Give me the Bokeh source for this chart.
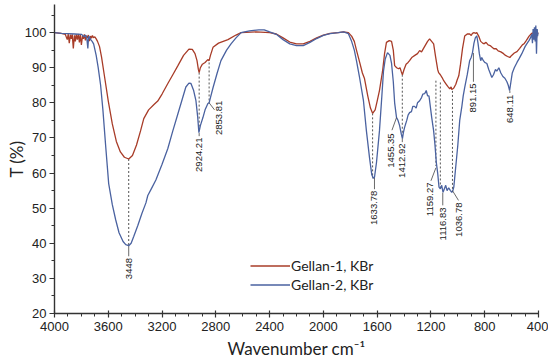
import math
from bokeh.plotting import figure
from bokeh.models import Range1d, FixedTicker, Legend, LegendItem, ColumnDataSource
from bokeh.core.properties import value
from bokeh.embed import file_html
from bokeh.resources import INLINE

# ---------------- data ----------------
wn_g1 = [4000, 3950, 3920, 3905, 3898, 3890, 3882, 3875, 3868, 3860, 3852, 3845, 3838, 3830, 3822,
         3815, 3808, 3800, 3792, 3785, 3778, 3770, 3762, 3755, 3748, 3740, 3732, 3725, 3718, 3710,
         3700, 3690, 3680, 3665, 3650, 3630, 3600, 3570, 3540, 3510, 3480, 3448, 3420, 3390, 3360,
         3336, 3300, 3260, 3232, 3200, 3157, 3120, 3082, 3040, 3000, 2975, 2955, 2940, 2930, 2924,
         2915, 2900, 2880, 2860, 2850, 2840, 2821, 2780, 2710, 2650, 2612, 2500, 2400, 2350, 2300,
         2250, 2200, 2150, 2100, 2050, 2000, 1950, 1889, 1850, 1814, 1790, 1770, 1754, 1730, 1710,
         1695, 1670, 1650, 1634, 1615, 1600, 1583, 1560, 1545, 1531, 1510, 1493, 1480, 1470, 1455,
         1441, 1430, 1420, 1412, 1400, 1385, 1370, 1359, 1340, 1320, 1300, 1284, 1270, 1255, 1240,
         1225, 1210, 1195, 1180, 1165, 1150, 1143, 1130, 1117, 1105, 1090, 1075, 1060, 1050, 1045,
         1037, 1030, 1015, 1005, 993, 980, 965, 949, 930, 912, 900, 891, 880, 870, 859, 845, 830,
         815, 807, 790, 775, 760, 745, 732, 715, 700, 680, 660, 645, 630, 613, 600, 580, 560, 540,
         520, 508, 490, 470, 450, 434, 425, 420, 415, 410, 405, 400]
t_g1 = [100, 99.8, 99.5, 98.0, 99.6, 97.0, 99.4, 98.2, 99.5, 95.5, 99.2, 97.5, 99.5, 98.0, 99.6,
        97.2, 99.3, 96.5, 99.0, 98.2, 99.5, 97.8, 99.1, 98.5, 99.3, 97.6, 99.0, 98.4, 99.2, 98.5,
        98.8, 98.2, 97.5, 96.0, 93.0, 88.0, 80.5, 74.0, 69.0, 66.0, 64.5, 64.0, 65.0, 68.0, 72.0,
        75.5, 78.0, 79.5, 80.5, 82.5, 85.5, 88.0, 90.6, 93.5, 95.3, 95.2, 94.0, 92.0, 89.5, 88.6,
        90.0, 91.0, 91.5, 92.3, 92.0, 93.5, 95.8, 97.0, 98.0, 99.3, 100.0, 100.2, 100.0, 99.6, 98.5,
        97.3, 96.8, 96.8, 97.5, 98.5, 99.3, 99.8, 100.0, 100.2, 100.0, 99.0, 97.5, 95.0, 91.5, 88.5,
        87.0, 82.0, 78.5, 77.0, 78.0, 80.5, 83.5, 89.0, 94.0, 97.2, 97.7, 97.5, 95.0, 90.6, 90.0,
        89.7, 90.0, 88.8, 88.0, 89.5, 91.0, 91.5, 92.0, 93.0, 93.5, 94.0, 94.9, 94.5, 95.5, 96.5,
        97.5, 98.2, 97.5, 96.8, 93.0, 89.5, 88.6, 88.0, 87.2, 86.3, 85.5, 84.7, 84.0, 84.5, 83.8,
        84.0, 84.2, 85.3, 86.5, 87.7, 91.0, 95.5, 99.0, 99.6, 99.6, 99.2, 99.8, 100.0, 99.8, 100.0,
        99.0, 97.5, 97.0, 96.8, 97.2, 96.5, 96.3, 95.8, 95.4, 95.4, 94.8, 94.5, 94.0, 93.5, 93.2,
        92.9, 93.5, 94.2, 94.6, 95.5, 96.5, 96.8, 97.8, 99.0, 99.8, 100.0, 99.0, 101.0, 98.5, 100.5,
        99.5, 100.0]

wn_g2 = [4000, 3950, 3900, 3850, 3800, 3780, 3770, 3760, 3752, 3746, 3730, 3720, 3709, 3690, 3675,
         3657, 3640, 3620, 3597, 3570, 3545, 3520, 3490, 3470, 3448, 3430, 3410, 3381, 3350, 3320,
         3306, 3280, 3246, 3200, 3157, 3120, 3082, 3050, 3023, 3000, 2985, 2965, 2948, 2935, 2926,
         2915, 2896, 2880, 2859, 2850, 2840, 2821, 2790, 2762, 2720, 2687, 2650, 2612, 2550, 2480,
         2440, 2400, 2350, 2300, 2250, 2200, 2150, 2100, 2050, 2000, 1950, 1889, 1850, 1814, 1790,
         1770, 1754, 1730, 1702, 1680, 1657, 1640, 1628, 1620, 1605, 1583, 1565, 1553, 1540, 1523,
         1505, 1493, 1480, 1470, 1456, 1445, 1433, 1420, 1412, 1405, 1396, 1380, 1370, 1359, 1345,
         1335, 1322, 1310, 1300, 1284, 1270, 1260, 1247, 1235, 1225, 1215, 1210, 1195, 1180, 1170,
         1160, 1150, 1140, 1130, 1120, 1110, 1100, 1090, 1080, 1068, 1055, 1045, 1037, 1030, 1015,
         1000, 986, 970, 960, 949, 930, 912, 900, 891, 880, 870, 859, 850, 840, 830, 822, 810, 800,
         784, 770, 760, 747, 735, 720, 710, 695, 680, 665, 650, 635, 625, 615, 605, 595, 580, 560,
         545, 524, 500, 480, 471, 460, 450, 445, 440, 435, 430, 425, 420, 415, 410, 405, 400]
t_g2 = [100, 99.8, 99.7, 99.6, 99.5, 98.8, 99.3, 98.5, 95.5, 99.0, 98.0, 97.5, 96.8, 93.5, 90.0,
        85.0, 78.0, 68.0, 57.0, 51.0, 46.7, 43.0, 40.5, 39.6, 39.3, 40.0, 42.0, 45.0, 48.5, 51.5,
        53.6, 55.5, 58.0, 62.5, 67.0, 72.0, 76.9, 81.0, 84.5, 85.6, 85.5, 83.5, 80.6, 76.0, 71.5,
        73.5, 75.8, 78.0, 79.8, 80.0, 81.5, 84.3, 88.5, 92.0, 95.0, 96.8, 98.5, 100.0, 100.5, 100.8,
        100.8, 100.2, 99.5, 98.0, 96.8, 96.3, 96.3, 97.2, 98.3, 99.2, 99.7, 100.0, 100.2, 99.7, 97.5,
        95.0, 92.0, 87.0, 80.6, 72.0, 64.4, 59.5, 58.5, 58.8, 63.0, 72.0, 82.0, 89.0, 92.5, 94.3,
        93.5, 91.2, 86.0, 80.0, 75.8, 75.0, 73.5, 71.0, 69.8, 71.5, 73.0, 75.0, 76.5, 77.2, 77.5,
        79.0, 79.0, 78.5, 80.0, 80.6, 81.5, 82.5, 82.6, 83.5, 82.0, 82.0, 80.6, 76.0, 72.0, 68.0,
        63.0, 60.0, 56.0, 55.5, 56.5, 54.5, 55.5, 56.5, 55.0, 55.8, 55.0, 54.5, 55.0, 56.0, 62.0,
        68.0, 75.0, 79.0, 82.0, 84.3, 88.0, 92.0, 93.0, 94.3, 97.0, 98.5, 99.1, 97.0, 94.0, 92.0,
        92.9, 92.0, 91.5, 91.2, 89.5, 88.5, 87.2, 88.0, 89.5, 89.0, 90.0, 88.5, 87.5, 87.0, 86.0,
        85.0, 83.5, 86.0, 88.5, 90.0, 91.5, 92.5, 94.0, 96.0, 97.2, 97.7, 98.5, 99.5, 97.0, 101.0,
        98.0, 101.5, 97.5, 102.0, 94.0, 101.0, 99.0, 100.0]

series_names = ["Gellan-1, KBr", "Gellan-2, KBr"]

# peak annotations: label text, label x (cm-1), label top (T), leader start (x, T), leader end (x, T)
peak_text = ["3448", "2924.21", "2853.81", "1633.78", "1455.35", "1412.92",
             "1159.27", "1116.83", "1036.78", "891.15", "648.11"]
peak_lx = [3448, 2924, 2775, 1620, 1495, 1413, 1207, 1112, 991, 884, 613]
peak_ltop = [35.8, 70.1, 80.6, 55.0, 71.3, 68.4, 57.3, 50.2, 51.6, 85.5, 82.3]
lead_x0 = [3448, 2924, 2850, 1620, 1456, 1413, 1163, 1112, 1040, 884, 613]
lead_y0 = [39.2, 71.4, 80.0, 58.6, 75.8, 69.8, 61.5, 54.4, 55.0, 94.2, 83.4]
lead_x1 = [3448, 2924, 2810, 1620, 1490, 1413, 1200, 1112, 995, 884, 613]
lead_y1 = [36.3, 70.5, 78.0, 55.4, 72.2, 68.8, 57.8, 50.8, 52.2, 86.0, 82.8]

# dotted drop lines between the two spectra
drop_x = [3448, 2924, 2850, 1634, 1413, 1163, 1130, 1040]
drop_top = [64.0, 88.6, 91.5, 77.0, 88.0, 86.3, 85.8, 83.4]
drop_bot = [39.5, 71.5, 80.0, 58.5, 69.8, 62.0, 55.5, 55.0]

x_major = [4000, 3600, 3200, 2800, 2400, 2000, 1600, 1200, 800, 400]
x_minor = list(range(4000, 399, -100))
y_major = [20, 30, 40, 50, 60, 70, 80, 90, 100]
y_minor = [v / 2 for v in range(40, 215, 10)]

# ---------------- figure ----------------
RED = "#A83C28"
BLUE = "#4A62A0"
TXT = "#222222"

p = figure(width=548, height=362, output_backend="svg", toolbar_location=None,
           x_range=Range1d(4000, 400), y_range=Range1d(20, 108.0),
           min_border_left=54, min_border_right=10, min_border_top=4, min_border_bottom=49)
p.outline_line_color = None
p.xgrid.visible = False
p.ygrid.visible = False
p.background_fill_color = "white"

# drop lines
p.segment(x0=drop_x, y0=drop_top, x1=drop_x, y1=drop_bot, line_color="#555555",
          line_width=1, line_dash="2 2")

r1 = p.line(wn_g1, t_g1, line_color=RED, line_width=1.3)
r2 = p.line(wn_g2, t_g2, line_color=BLUE, line_width=1.3)

# leader lines
p.segment(x0=lead_x0, y0=lead_y0, x1=lead_x1, y1=lead_y1, line_color="#444444", line_width=0.8)

src = ColumnDataSource(dict(x=peak_lx, y=peak_ltop, t=peak_text))
p.text(x="x", y="y", text="t", source=src, angle=math.pi / 2, text_align="right",
       text_baseline="middle", text_font=value("Liberation Sans"), text_font_size="9.5px",
       text_color=TXT)

# axes
for ax in (p.xaxis[0], p.yaxis[0]):
    ax.axis_line_color = "#333333"
    ax.axis_line_width = 1.4
    ax.major_tick_line_color = "#333333"
    ax.minor_tick_line_color = "#333333"
    ax.major_tick_line_width = 1.2
    ax.minor_tick_line_width = 1
    ax.major_label_text_font = "Liberation Sans"
    ax.major_label_text_font_size = "13px"
    ax.major_label_text_color = TXT
    ax.axis_label_text_font = "Lato"
    ax.axis_label_text_font_size = "17px"
    ax.axis_label_text_font_style = "normal"
    ax.axis_label_text_color = TXT

p.xaxis.ticker = FixedTicker(ticks=x_major, minor_ticks=x_minor)
p.yaxis.ticker = FixedTicker(ticks=y_major, minor_ticks=y_minor)
p.xaxis.axis_label = "Wavenumber cm\u207b\u00b9"
p.yaxis.axis_label = "T (%)"
p.xaxis.major_tick_in = 3
p.xaxis.major_tick_out = 4
p.xaxis.minor_tick_in = 0
p.xaxis.minor_tick_out = 3
p.yaxis.major_tick_in = 0
p.yaxis.major_tick_out = 5
p.yaxis.minor_tick_in = 0
p.yaxis.minor_tick_out = 3
p.xaxis.major_label_standoff = 4
p.yaxis.major_label_standoff = 3
p.xaxis.axis_label_standoff = 4
p.yaxis.axis_label_standoff = -5

legend = Legend(items=[LegendItem(label=series_names[0], renderers=[r1]),
                       LegendItem(label=series_names[1], renderers=[r2])],
                location=(196, 19), orientation="vertical",
                border_line_color=None, background_fill_alpha=0,
                glyph_width=40, glyph_height=19, label_height=19, spacing=0,
                padding=0, margin=0, label_standoff=1,
                label_text_font="Lato", label_text_font_size="14px", label_text_color=TXT)
p.add_layout(legend, "center")

open("out.html", "w").write(file_html(p, INLINE))
